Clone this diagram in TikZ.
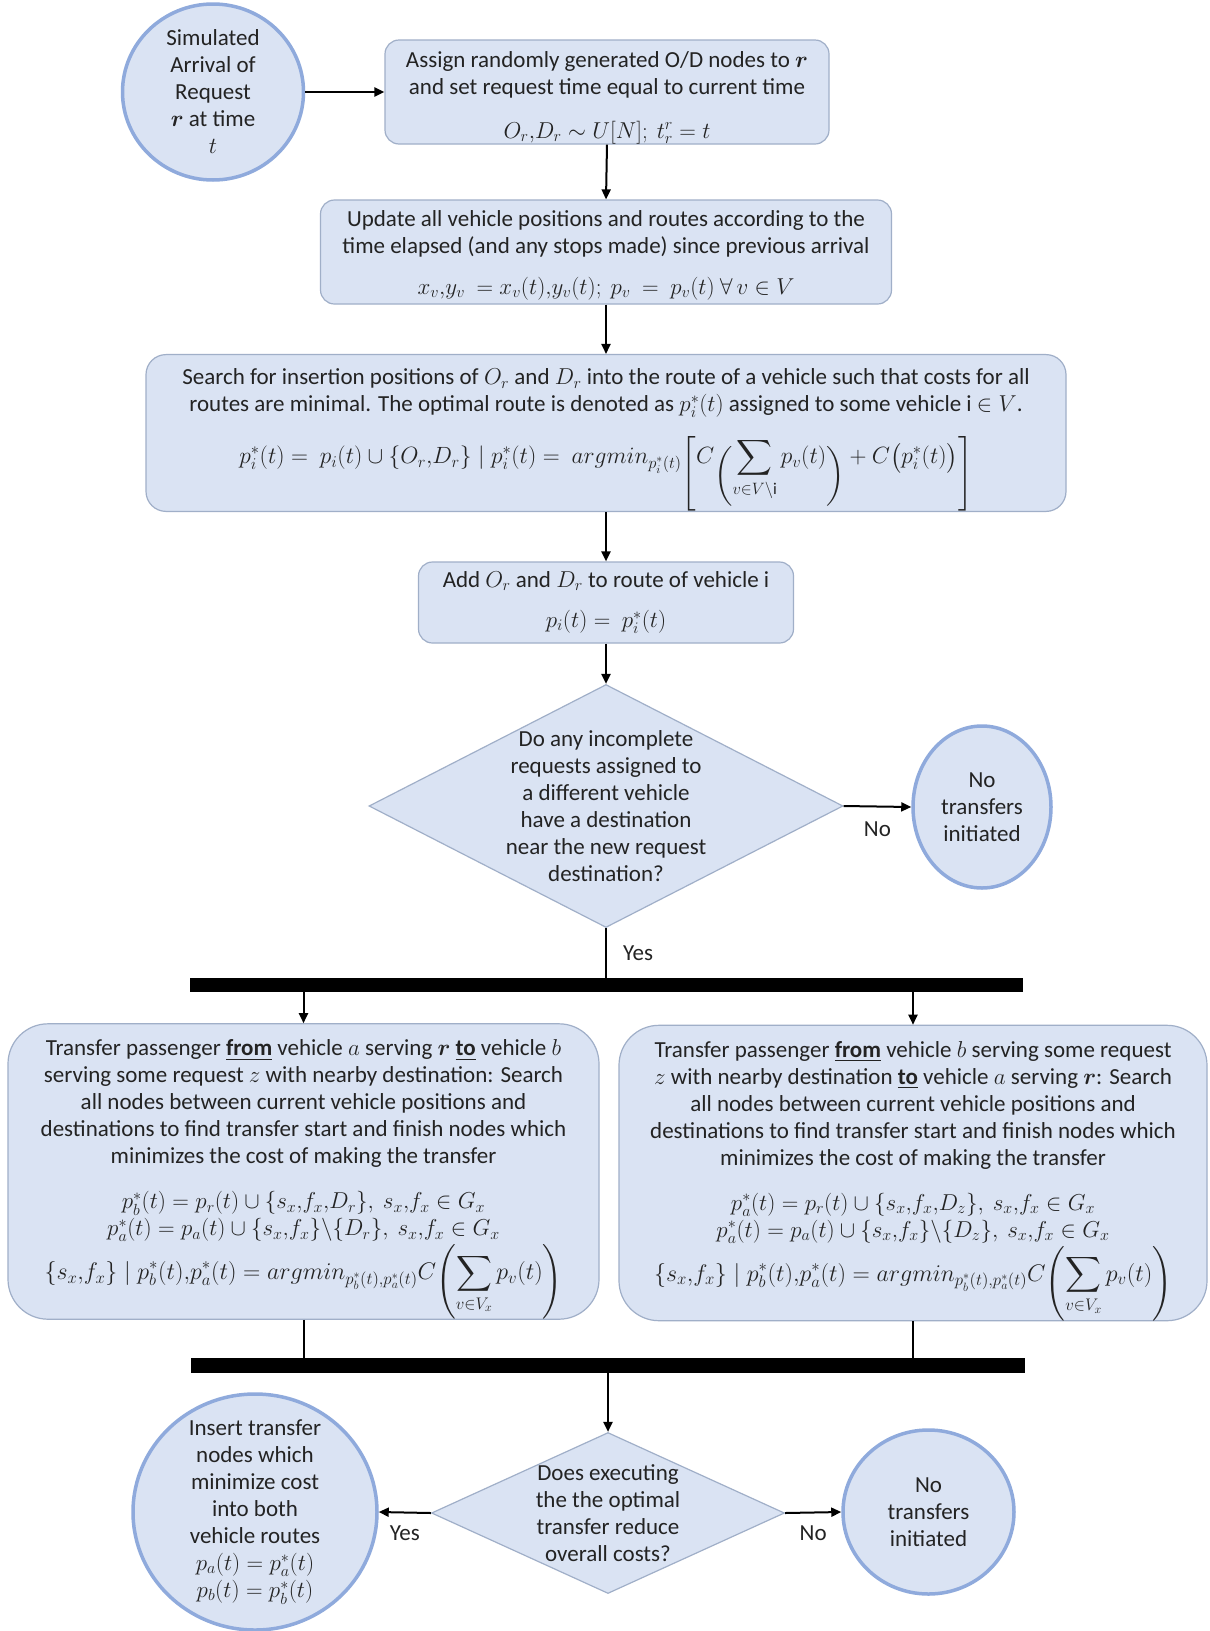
\RequirePackage{fix-cm}
\documentclass[tikz,border=0pt]{standalone}
\usepackage{amsmath}
\usepackage{fontspec}
\setmainfont{Carlito}
\usetikzlibrary{shapes.geometric,arrows.meta}
\definecolor{boxfill}{RGB}{218,227,243}
\definecolor{boxline}{RGB}{160,175,200}
\definecolor{circline}{RGB}{143,170,220}
\definecolor{ink}{RGB}{35,35,35}
\newcommand\myfont{\fontsize{23pt}{27pt}\selectfont}
\newcommand\eqb{\fontsize{23.5pt}{27pt}\selectfont}
\newcommand\eqc{\fontsize{24pt}{27pt}\selectfont}
\newcommand\lowl[2]{\mathopen{\lower#1\hbox{$#2$}}}
\newcommand\lowr[2]{\mathclose{\lower#1\hbox{$#2$}}}
\begin{document}
\begin{tikzpicture}[x=1pt,y=-1pt,
  box/.style={draw=boxline, line width=1.2pt, fill=boxfill, rounded corners=14pt, align=center, inner sep=0pt, font=\myfont, text=ink},
  ell/.style={ellipse, draw=circline, line width=3.5pt, fill=boxfill, inner sep=0pt},
  dia/.style={diamond, draw=boxline, line width=1.2pt, fill=boxfill, inner sep=0pt},
  barnode/.style={fill=black, inner sep=0pt},
  txt/.style={align=center, inner sep=0pt, font=\myfont, text=ink},
  lab/.style={font=\myfont, inner sep=0pt, text=ink},
  arr/.style={-{Triangle[length=10pt,width=9pt]}, line width=2pt},
  ln/.style={line width=2pt}]
\useasboundingbox[fill=white] (0,0) rectangle (1210,1631);

% top row
\node[ell, minimum width=181pt, minimum height=176pt] (c1) at (213,92) {};
\node[txt] (c1t) at (c1) {Simulated\\Arrival of\\Request\\$\boldsymbol{r}$ at time\\$t$};

\node[box, minimum width=444pt, minimum height=104pt] (b1) at (607,92)
 {\rule{0pt}{27pt}Assign randomly generated O/D nodes to $\boldsymbol{r}$\\and set request time equal to current time\\[17pt]$O_r{,}D_r \sim U[N];\ t_r^r = t$};

\node[box, minimum width=571pt, minimum height=104pt] (b2) at (606,252)
 {\rule{0pt}{22pt}Update all vehicle positions and routes according to the\\time elapsed (and any stops made) since previous arrival\\[14pt]$x_v{,}y_v\ = x_v(t){,}y_v(t);\ p_v\ =\ p_v(t)\ \forall\, v \in V$};

\node[box, rounded corners=20pt, minimum width=920pt, minimum height=148pt] (b3) at (606,433)
 {\rule{0pt}{30pt}Search for insertion positions of $O_r$ and $D_r$ into the route of a vehicle such that costs for all\\routes are minimal. The optimal route is denoted as $p_i^*(t)$ assigned to some vehicle i $\in V$.\\[18pt]
 {\eqb$\displaystyle p_i^*(t) =\ p_i(t) \cup \{O_r{,}D_r\} \mid p_i^*(t) =\ argmin_{p_i^*(t)}\lowl{16pt}{\Biggl[}C\lowl{18pt}{\biggl(}\sum_{v\in V\setminus \mathrm{i}} p_v(t)\lowr{18pt}{\biggr)} + C\bigl(p_i^*(t)\bigr)\lowr{16pt}{\Biggr]}$}};

\node[box, minimum width=375pt, minimum height=81pt] (b4) at (606,602.5)
 {Add $O_r$ and $D_r$ to route of vehicle i\\[13pt]$p_i(t) =\ p_i^*(t)$};

\node[dia, minimum width=474pt, minimum height=243pt] (d1) at (606,806) {};
\node[txt] (d1t) at (d1) {Do any incomplete\\requests assigned to\\a different vehicle\\have a destination\\near the new request\\destination?};

\node[ell, minimum width=138pt, minimum height=162pt] (c2) at (982,807) {};
\node[txt] (c2t) at (c2) {No\\transfers\\initiated};

\node[barnode, minimum width=833pt, minimum height=14pt] (bar1) at (606,985) {};

\node[box, rounded corners=40pt, minimum width=591pt, minimum height=283pt] (b5) at (303.5,1171.5)
 {\rule{0pt}{32pt}Transfer passenger \underline{\textbf{from}} vehicle $a$ serving $\boldsymbol{r}$ \underline{\textbf{to}} vehicle $b$\\serving some request $z$ with nearby destination: Search\\all nodes between current vehicle positions and\\destinations to find transfer start and finish nodes which\\minimizes the cost of making the transfer\\[18pt]
 $p_b^*(t) = p_r(t) \cup \{s_x{,}f_x{,}D_r\},\ s_x{,}f_x \in G_x$\\
 $p_a^*(t) = p_a(t) \cup \{s_x{,}f_x\}\backslash\{D_r\},\ s_x{,}f_x \in G_x$\\[2pt]
 {\eqc$\displaystyle \{s_x{,}f_x\} \mid p_b^*(t){,}p_a^*(t) = argmin_{p_b^*(t){,}p_a^*(t)} C\lowl{8pt}{\Biggl(}\sum_{v\in V_x} p_v(t)\lowr{8pt}{\Biggr)}$}};

\node[box, rounded corners=40pt, minimum width=588pt, minimum height=286pt] (b6) at (913,1173)
 {\rule{0pt}{32pt}Transfer passenger \underline{\textbf{from}} vehicle $b$ serving some request\\$z$ with nearby destination \underline{\textbf{to}} vehicle $a$ serving $\boldsymbol{r}$: Search\\all nodes between current vehicle positions and\\destinations to find transfer start and finish nodes which\\minimizes the cost of making the transfer\\[18pt]
 $p_a^*(t) = p_r(t) \cup \{s_x{,}f_x{,}D_z\},\ s_x{,}f_x \in G_x$\\
 $p_a^*(t) = p_a(t) \cup \{s_x{,}f_x\}\backslash\{D_z\},\ s_x{,}f_x \in G_x$\\[2pt]
 {\eqc$\displaystyle \{s_x{,}f_x\} \mid p_b^*(t){,}p_a^*(t) = argmin_{p_b^*(t){,}p_a^*(t)} C\lowl{8pt}{\Biggl(}\sum_{v\in V_x} p_v(t)\lowr{8pt}{\Biggr)}$}};

\node[barnode, minimum width=834pt, minimum height=15pt] (bar2) at (608,1365.5) {};

\node[dia, minimum width=353pt, minimum height=161pt] (d2) at (608,1513) {};
\node[txt] (d2t) at (d2) {Does executing\\the the optimal\\transfer reduce\\overall costs?};

\node[ell, minimum width=244pt, minimum height=236pt] (c3) at (255,1512) {};
\node[txt] (c3t) at (c3) {Insert transfer\\nodes which\\minimize cost\\into both\\vehicle routes\\$p_a(t) = p_a^*(t)$\\$p_b(t) = p_b^*(t)$};

\node[ell, minimum width=171pt, minimum height=164pt] (c4) at (928.5,1512) {};
\node[txt] (c4t) at (c4) {No\\transfers\\initiated};

% connectors
\draw[arr] (c1.east) -- (b1.west);
\draw[arr] (b1.south) -- (b2.north);
\draw[arr] (b2.south) -- (b3.north);
\draw[arr] (b3.south) -- (b4.north);
\draw[arr] (b4.south) -- (d1.north);
\draw[arr] (d1.east) -- (c2.west) node[lab, midway, below=14pt] (no1) {No};
\draw[ln] (d1.south) -- (bar1.north) node[lab, midway, right=16pt] (yes1) {Yes};
\draw[arr] (bar1.south -| b5.north) -- (b5.north);
\draw[arr] (bar1.south -| b6.north) -- (b6.north);
\draw[ln] (b5.south) -- (b5.south |- bar2.north);
\draw[ln] (b6.south) -- (b6.south |- bar2.north);
\draw[arr] (bar2.south -| d2.north) -- (d2.north);
\draw[arr] (d2.west) -- (c3.east) node[lab, midway, below=12pt] (yes2) {Yes};
\draw[arr] (d2.east) -- (c4.west) node[lab, midway, below=12pt] (no2) {No};
\end{tikzpicture}
\end{document}
